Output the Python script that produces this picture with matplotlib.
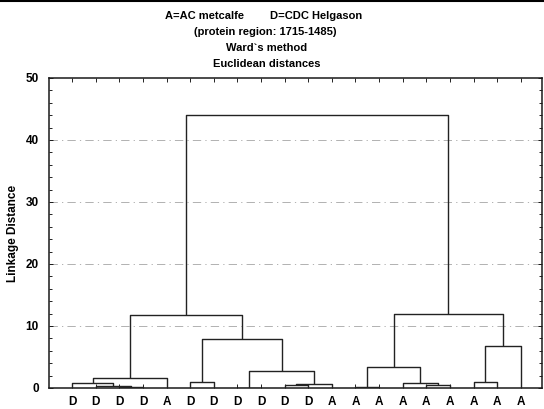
import matplotlib.pyplot as plt
from matplotlib.ticker import MultipleLocator
from matplotlib.lines import Line2D

plt.rcParams['font.family'] = ['Liberation Sans', 'DejaVu Sans']

# leaf order along the x axis
leaf_labels = ["D", "D", "D", "D", "A", "D", "D", "D", "D", "D",
               "D", "A", "A", "A", "A", "A", "A", "A", "A", "A"]

# merges: (child a, child b, linkage distance); ids < 20 are leaves,
# new clusters get ids 20, 21, ... in order
merge_a = [2, 1, 0, 22, 7, 9, 25, 24, 5, 28, 23, 12, 15, 14, 31, 17, 35, 34, 30]
merge_b = [3, 20, 21, 4, 8, 10, 11, 26, 6, 27, 29, 13, 16, 32, 33, 18, 19, 36, 37]
merge_h = [0.15, 0.3, 0.85, 1.66, 0.05, 0.53, 0.7, 2.8, 0.92, 7.85,
           11.8, 0.2, 0.48, 0.75, 3.39, 0.92, 6.72, 11.98, 44.0]

grid_levels = [10, 20, 30, 40]

fig = plt.figure(figsize=(5.44, 4.09), dpi=100)
ax = fig.add_axes([48.5 / 544, 21 / 409, 493.5 / 544, 310 / 409])

n = len(leaf_labels)
pos = {i: i + 1 for i in range(n)}
hgt = {i: 0.0 for i in range(n)}

for y in grid_levels:
    ax.axhline(y, color="#a5a5a5", lw=0.6, ls=(0, (10, 5, 1.5, 5)), zorder=1)

line_kw = dict(color="#222222", lw=1.0, solid_capstyle="butt", zorder=3)
for k, (a, b, h) in enumerate(zip(merge_a, merge_b, merge_h)):
    xa, xb = pos[a], pos[b]
    ax.plot([xa, xa, xb, xb], [hgt[a], h, h, hgt[b]], **line_kw)
    cid = n + k
    pos[cid] = (xa + xb) / 2
    hgt[cid] = h

ax.set_xlim(0, 20.9)
ax.set_ylim(0, 50)
ax.set_xticks(range(1, n + 1))
ax.set_xticklabels(leaf_labels, fontsize=8.5, fontweight="bold")
ax.set_yticks(range(0, 51, 10))
ax.set_yticklabels([str(v) for v in range(0, 51, 10)], fontsize=8.5, fontweight="bold")
ax.yaxis.set_minor_locator(MultipleLocator(2))
ax.tick_params(axis="x", direction="in", top=True, bottom=True, length=3, width=0.6, pad=6)
ax.tick_params(axis="y", which="both", direction="in", left=True, right=True, width=0.6, pad=7)
ax.tick_params(axis="y", which="major", length=3)
ax.tick_params(axis="y", which="minor", length=2)
for s in ax.spines.values():
    s.set_linewidth(1.1)
    s.set_color("#1a1a1a")

ax.set_ylabel("Linkage Distance", fontsize=8.5, fontweight="bold", labelpad=5)

# title block
fs = 8
fig.text(165 / 544, 1 - 16 / 409, "A=AC metcalfe", ha="left", va="center", fontsize=fs, fontweight="bold")
fig.text(270 / 544, 1 - 16 / 409, "D=CDC Helgason", ha="left", va="center", fontsize=fs, fontweight="bold")
fig.text(265 / 544, 1 - 32 / 409, "(protein region: 1715-1485)", ha="center", va="center", fontsize=fs, fontweight="bold")
fig.text(267 / 544, 1 - 48 / 409, "Ward`s method", ha="center", va="center", fontsize=fs, fontweight="bold")
fig.text(267 / 544, 1 - 64 / 409, "Euclidean distances", ha="center", va="center", fontsize=fs, fontweight="bold")

# cut-off rule at the very top of the scan
fig.add_artist(Line2D([0, 1], [0.998, 0.998], transform=fig.transFigure, color="black", lw=1.5))

fig.savefig("out.png", dpi=100)
